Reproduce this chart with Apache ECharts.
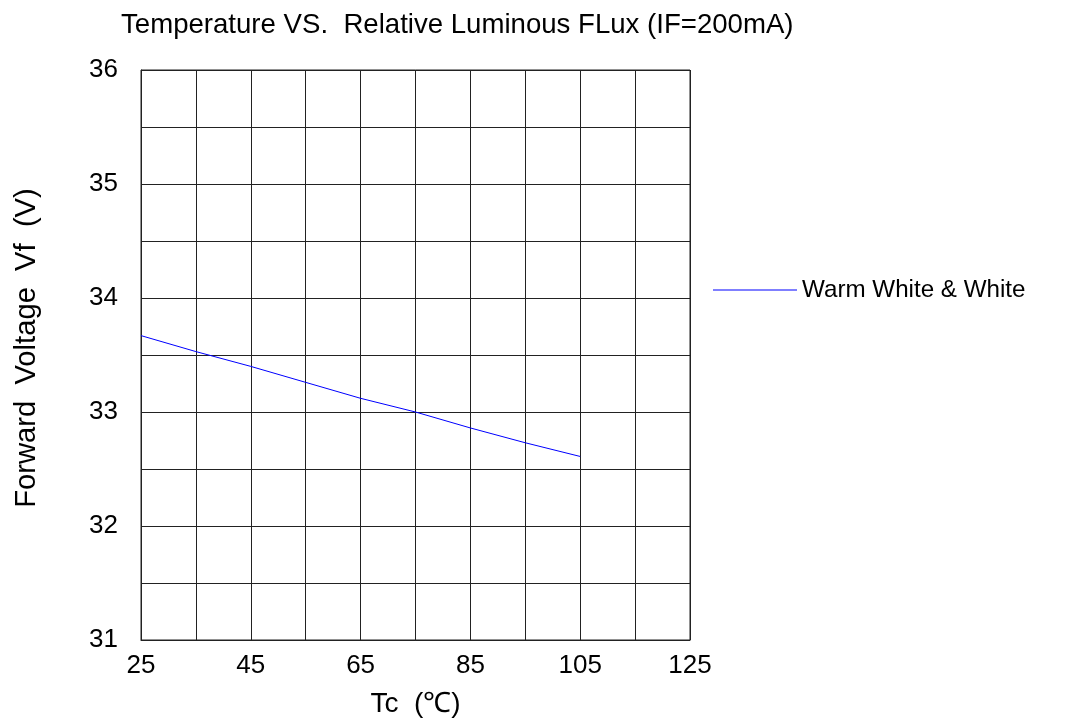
<!DOCTYPE html>
<html><head><meta charset="utf-8">
<script src="https://cdn.jsdelivr.net/npm/echarts@6/dist/echarts.min.js"></script>
<style>html,body{margin:0;padding:0;background:#fff}#c{width:1065px;height:727px}</style>
</head><body><div id="c"></div>
<script>
const titleText = 'Temperature VS.  Relative Luminous FLux (IF=200mA)';
const seriesName = 'Warm White & White';
const tc = [25, 35, 45, 55, 65, 75, 85, 95, 105];
const vf = [33.67, 33.53, 33.40, 33.26, 33.12, 33.00, 32.86, 32.73, 32.61];
const xLabels = [25, 45, 65, 85, 105, 125];
const yLabels = [31, 32, 33, 34, 35, 36];

const font = 'Liberation Sans, Arial, sans-serif';
const chart = echarts.init(document.getElementById('c'));
chart.setOption({
  animation: false,
  backgroundColor: '#fff',
  title: { text: titleText, left: 116, top: 6,
    textStyle: { fontFamily: font, fontSize: 27.6, fontWeight: 'normal', color: '#000' } },
  legend: { left: 708, top: 273, icon: 'rect', itemWidth: 84, itemHeight: 1, itemGap: 8,
    textStyle: { fontFamily: font, fontSize: 24.2, color: '#000' },
    data: [{ name: seriesName, itemStyle: { color: '#0000ff' } }] },
  grid: { left: 141, right: 375, top: 70, bottom: 87, show: true, borderColor: '#222', borderWidth: 1 },
  xAxis: {
    type: 'value', min: 25, max: 125, interval: 10,
    name: 'Tc  (℃)', nameLocation: 'middle', nameGap: 50,
    nameTextStyle: { fontFamily: font, fontSize: 28, color: '#000' },
    axisLine: { lineStyle: { color: '#222' } }, axisTick: { show: false },
    splitLine: { show: true, lineStyle: { color: '#222', width: 1 } },
    axisLabel: { fontFamily: font, fontSize: 26, color: '#000', margin: 13,
      formatter: v => xLabels.includes(Math.round(v)) ? String(Math.round(v)) : '' }
  },
  yAxis: {
    type: 'value', min: 31, max: 36, interval: 0.5,
    name: 'Forward  Voltage  Vf  (V)', nameLocation: 'middle', nameGap: 100,
    nameTextStyle: { fontFamily: font, fontSize: 29.2, color: '#000', padding: [0, 0, 0, 14] },
    axisLine: { lineStyle: { color: '#222' } }, axisTick: { show: false },
    splitLine: { show: true, lineStyle: { color: '#222', width: 1 } },
    axisLabel: { fontFamily: font, fontSize: 26, color: '#000', margin: 23,
      formatter: v => yLabels.includes(v) ? String(v) : '' }
  },
  series: [{
    name: seriesName, type: 'line', symbol: 'none',
    data: tc.map((t, i) => [t, vf[i]]),
    lineStyle: { color: '#0000ff', width: 1 }, itemStyle: { color: '#0000ff' }
  }]
});
</script></body></html>
